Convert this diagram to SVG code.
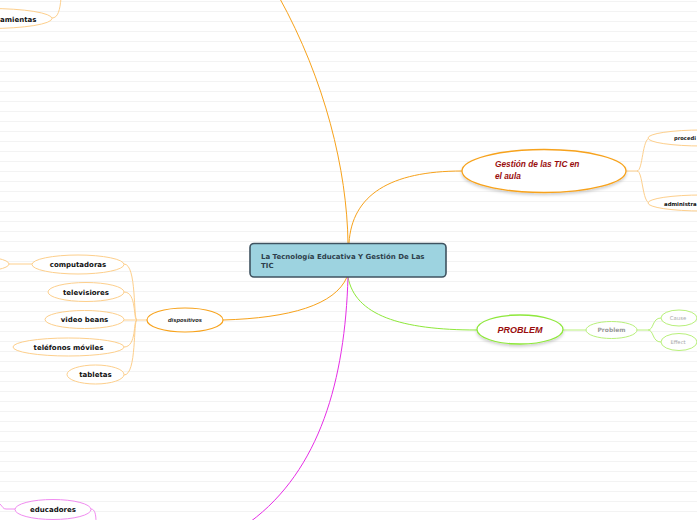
<svg xmlns="http://www.w3.org/2000/svg" width="697" height="520" viewBox="0 0 697 520">
<defs>
<pattern id="lines" width="697" height="10" patternUnits="userSpaceOnUse" y="1">
<rect width="697" height="10" fill="#ffffff"/>
<rect x="0" y="0" width="697" height="1" fill="#f3f3f3"/>
</pattern>
<filter id="sh" x="-20%" y="-30%" width="140%" height="170%">
<feDropShadow dx="0" dy="2" stdDeviation="1.5" flood-color="#000" flood-opacity="0.18"/>
</filter>
</defs>
<style>
.t{font-family:"DejaVu Sans",sans-serif;font-weight:bold;}
.it{font-family:"Liberation Sans",Arial,sans-serif;font-weight:bold;font-style:italic;}
.lo{fill:#fff;stroke:#fdcf8c;stroke-width:1;}
.lg{fill:#fff;stroke:#b8f07a;stroke-width:1;}
.lm{fill:#fff;stroke:#f08cf0;stroke-width:1;}
.c{fill:none;stroke-width:1;}
</style>
<rect width="697" height="520" fill="url(#lines)"/>
<g id="connectors">
<path class="c" d="M348,243 C347,170 325,80 279,-3" stroke="#f7a21b" stroke-width="1.3"/>
<path class="c" d="M349,243 C352,195 390,171 462,171" stroke="#f7a21b" stroke-width="1.3"/>
<path class="c" d="M347,277 C335,305 290,318 223,320" stroke="#f7a21b" stroke-width="1.3"/>
<path class="c" d="M348,277 C355,315 400,330 477,330" stroke="#8ee83a" stroke-width="1.3"/>
<path class="c" d="M348,277 C345,380 320,470 250,522" stroke="#e62ee6" stroke-width="1.3"/>
<path class="c" d="M626,171 L637,171 C643,171 642,138 650,138 M637,171 C643,171 642,203 650,203" stroke="#fdcf8c"/>
<path class="c" d="M563,330 L586,330" stroke="#b8f07a"/>
<path class="c" d="M637,330 L648,330 C654,330 652,318 661,318 M648,330 C654,330 652,342 661,342" stroke="#b8f07a"/>
<path class="c" d="M694,319 L697,318 M694,341 L697,342" stroke="#3a8fd8" stroke-width="1.2"/>
<path class="c" d="M147,320 L137,320 C133,320 137,264 124,264 M137,320 C133,320 137,292 124,292 M137,320 L124,320 M137,320 C133,320 137,347 124,347 M137,320 C133,320 137,375 124,375" stroke="#fdcf8c"/>
<path class="c" d="M9,264 L32,264" stroke="#fdcf8c"/>
<path class="c" d="M52,18 C58,18 60,10 61,-2" stroke="#fdcf8c"/>
<path class="c" d="M0,504 C3,507 3,509 6,509 L15,509 M91,509 C95,509 96,515 96,522" stroke="#f08cf0"/>
</g>
<g id="center">
<rect x="250" y="243.5" width="196" height="33.5" rx="4" fill="#9dd3e0" stroke="#3f5360" stroke-width="1.6"/>
<text class="t" x="261" y="259" font-size="7" fill="#2e3f4c">La Tecnología Educativa Y Gestión De Las</text>
<text class="t" x="261" y="267.5" font-size="7" fill="#2e3f4c">TIC</text>
</g>
<g id="gestion">
<ellipse cx="544" cy="171" rx="82" ry="21.5" fill="#fff" stroke="#f7a21b" stroke-width="1.3" filter="url(#sh)"/>
<text class="it" x="495" y="167" font-size="8.3" fill="#990d0d">Gestión de las TIC en</text>
<text class="it" x="495" y="179" font-size="8.3" fill="#990d0d">el aula</text>
</g>
<g id="procedi">
<ellipse class="lo" cx="702" cy="138" rx="54" ry="8"/>
<text class="t" x="674" y="140" font-size="5.2" fill="#111">procedi</text>
</g>
<g id="administra">
<ellipse class="lo" cx="702" cy="203" rx="54" ry="8"/>
<text class="t" x="664" y="205.5" font-size="5.4" fill="#111">administra</text>
</g>
<g id="problem-main">
<ellipse cx="520" cy="329.5" rx="43" ry="14.5" fill="#fff" stroke="#8ee83a" stroke-width="1.3" filter="url(#sh)"/>
<text class="it" x="520" y="333" font-size="9" fill="#990d0d" text-anchor="middle">PROBLEM</text>
</g>
<g id="problem">
<ellipse class="lg" cx="611.5" cy="330" rx="25.5" ry="8.5"/>
<text class="t" x="611.5" y="332.3" font-size="6" fill="#999" text-anchor="middle">Problem</text>
</g>
<g id="cause">
<ellipse class="lg" cx="679" cy="318" rx="18" ry="8"/>
<text class="t" x="678" y="320" font-size="5.3" fill="#aaa" text-anchor="middle" style="font-weight:normal">Cause</text>
</g>
<g id="effect">
<ellipse class="lg" cx="679" cy="342" rx="18" ry="8.5"/>
<text class="t" x="678" y="344" font-size="5.3" fill="#aaa" text-anchor="middle" style="font-weight:normal">Effect</text>
</g>
<g id="dispositivos">
<ellipse cx="185" cy="320" rx="38" ry="12" fill="#fff" stroke="#f7a21b" stroke-width="1.2"/>
<text class="it" x="185" y="322" font-size="5.8" fill="#111" text-anchor="middle">dispositivos</text>
</g>
<g id="computadoras">
<ellipse class="lo" cx="78" cy="264.5" rx="46" ry="9.5"/>
<text class="t" x="78" y="267" font-size="7" fill="#111" text-anchor="middle">computadoras</text>
</g>
<g id="left-partial">
<ellipse class="lo" cx="-30" cy="264" rx="39" ry="8"/>
</g>
<g id="televisiores">
<ellipse class="lo" cx="86" cy="292" rx="38" ry="9.5"/>
<text class="t" x="86" y="294.5" font-size="7" fill="#111" text-anchor="middle">televisiores</text>
</g>
<g id="video-beans">
<ellipse class="lo" cx="84.5" cy="319.5" rx="39.5" ry="9"/>
<text class="t" x="84.5" y="322" font-size="7" fill="#111" text-anchor="middle">video beans</text>
</g>
<g id="telefonos">
<ellipse class="lo" cx="68.5" cy="347" rx="55.5" ry="9"/>
<text class="t" x="68.5" y="349.5" font-size="7" fill="#111" text-anchor="middle">teléfonos móviles</text>
</g>
<g id="tabletas">
<ellipse class="lo" cx="95.5" cy="374.5" rx="28.5" ry="9.5"/>
<text class="t" x="95.5" y="377" font-size="7" fill="#111" text-anchor="middle">tabletas</text>
</g>
<g id="herramientas">
<ellipse class="lo" cx="-10" cy="18.5" rx="62" ry="10"/>
<text class="t" x="0" y="21.5" font-size="7" fill="#111">amientas</text>
</g>
<g id="educadores">
<ellipse class="lm" cx="53" cy="509.5" rx="38" ry="10"/>
<text class="t" x="53" y="512" font-size="7" fill="#111" text-anchor="middle">educadores</text>
</g>
</svg>
